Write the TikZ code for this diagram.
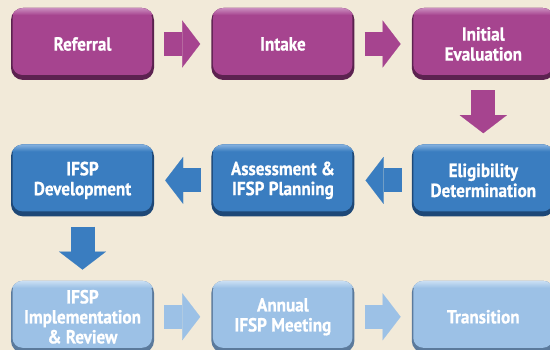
\documentclass[tikz,border=0pt]{standalone}
\usepackage{fontspec}
\usetikzlibrary{positioning, arrows.meta}
\newfontfamily\boxfont{PT Sans}[FakeStretch=0.9, BoldFeatures={FakeBold=0.7}]

\definecolor{cream}{HTML}{F2EAD9}
\definecolor{plum}{HTML}{A6448F}
\definecolor{plumlight}{HTML}{CB8DBF}
\definecolor{plumdark}{HTML}{5C2250}
\definecolor{steel}{HTML}{3A7DC0}
\definecolor{steellight}{HTML}{86B2E0}
\definecolor{steeldark}{HTML}{1E4877}
\definecolor{sky}{HTML}{9CC1E6}
\definecolor{skylight}{HTML}{CADFF3}
\definecolor{skydark}{HTML}{5B7A9C}

\tikzset{
    stepbox/.style n args={3}{rounded corners=12pt, minimum width=143pt, minimum height=72pt,
        inner sep=0pt, align=center, text=white,
        font=\boxfont\bfseries\fontsize{19}{20}\selectfont, fill=#3,
        path picture={
            % main face, leaving a dark rim at the bottom and right
            \fill[#1, rounded corners=10pt] ([xshift=1.5pt]path picture bounding box.north west)
                rectangle ([xshift=-2pt, yshift=5pt]path picture bounding box.south east);
            % light top edge
            \shade[sharp corners, top color=#2, bottom color=#1] (path picture bounding box.north west)
                rectangle ([yshift=-7pt]path picture bounding box.north east);
        }},
    plumbox/.style={stepbox={plum}{plumlight}{plumdark}},
    steelbox/.style={stepbox={steel}{steellight}{steeldark}},
    skybox/.style={stepbox={sky}{skylight}{skydark}},
    flow/.style={line width=24pt, color=#1, shorten <=10pt, shorten >=11pt,
        -{Triangle[length=18pt, width=47pt, line width=0.1pt]}}
}

\begin{document}
\begin{tikzpicture}[x=1pt, y=1pt]
    \fill[cream] (0,0) rectangle (550,350);
    \useasboundingbox (0,0) rectangle (550,350);

    % top row
    \node[plumbox] (referral) at (82.5,306) {Referral};
    \node[plumbox, right=57pt of referral] (intake) {Intake};
    \node[plumbox, right=57pt of intake] (initial) {Initial\\Evaluation};

    % middle row, right to left
    \node[steelbox, below=64pt of initial] (eligib) {Eligibility\\Determination};
    \node[steelbox, left=57pt of eligib] (assess) {Assessment \&\\IFSP Planning};
    \node[steelbox, left=57pt of assess] (develop) {IFSP\\Development};

    % bottom row
    \node[skybox, below=64pt of develop] (implem) {IFSP\\Implementation\\\& Review};
    \node[skybox, right=57pt of implem] (annual) {Annual\\IFSP Meeting};
    \node[skybox, right=57pt of annual] (transit) {Transition};

    % block arrows
    \draw[flow=plum] (referral) -- (intake);
    \draw[flow=plum] (intake) -- (initial);
    \draw[flow=plum] (initial) -- (eligib);
    \draw[flow=steel] (eligib) -- (assess);
    \draw[flow=steel] (assess) -- (develop);
    \draw[flow=steel] (develop) -- (implem);
    \draw[flow=sky] (implem) -- (annual);
    \draw[flow=sky] (annual) -- (transit);
\end{tikzpicture}
\end{document}
